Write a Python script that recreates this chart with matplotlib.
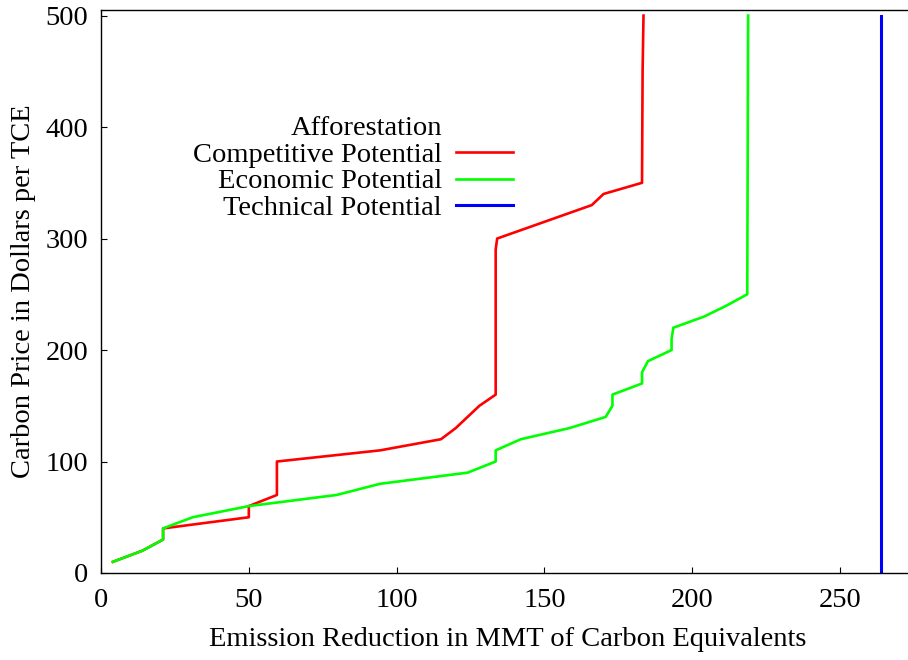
import matplotlib
matplotlib.use('Agg')
import matplotlib.pyplot as plt

plt.rcParams['font.family'] = ['Liberation Serif', 'DejaVu Serif']

# Competitive potential (red)
comp_x = [4, 14, 21, 21, 50, 50, 59.5, 59.5, 94.4, 115, 120, 128, 133.5, 133.5, 134,
          166, 170, 183, 183.2, 183.5]
comp_y = [10, 20, 30, 40, 50, 60, 70, 100, 110, 120, 130, 150, 160, 290, 300,
          330, 340, 350, 450, 500]

# Economic potential (green)
econ_x = [4, 14, 21, 21, 31, 50, 79.7, 94.4, 124, 133.5, 133.5, 142, 158.5, 170.7, 173,
          173, 183, 183, 185, 193, 193, 193.6, 204, 211.7, 218.6, 218.9]
econ_y = [10, 20, 30, 40, 50, 60, 70, 80, 90, 100, 110, 120, 130, 140, 150,
          160, 170, 180, 190, 200, 210, 220, 230, 240, 250, 500]

# Technical potential (blue)
tech_x = [264, 264]
tech_y = [0, 500]

FS = 20.5

fig = plt.figure(figsize=(9.08, 6.6), dpi=100)
ax = fig.add_axes([101 / 908, 87 / 660, 813 / 908, 563 / 660])

# leerer Eintrag als Legenden-Überschrift (rechtsbündig mit den Texten)
ax.plot([], [], color='none', label='Afforestation')
ax.plot(comp_x, comp_y, color='#ff0000', lw=1.9, label='Competitive Potential')
ax.plot(econ_x, econ_y, color='#00ff00', lw=1.9, label='Economic Potential')
ax.plot(tech_x, tech_y, color='#0000ff', lw=2.2, label='Technical Potential')

ax.set_xlim(0, 275)
ax.set_ylim(0, 505)
ax.set_xticks([0, 50, 100, 150, 200, 250])
ax.set_yticks([0, 100, 200, 300, 400, 500])
ax.tick_params(direction='in', length=4, width=0.8, labelsize=FS)
ax.tick_params(axis='y', pad=9)
ax.tick_params(axis='x', pad=11)
ax.spines['right'].set_visible(False)
for s in ['left', 'bottom', 'top']:
    ax.spines[s].set_linewidth(1.0)

ax.set_xlabel('Emission Reduction in MMT of Carbon Equivalents', fontsize=FS, labelpad=10)
ax.set_ylabel('Carbon Price in Dollars per TCE', fontsize=FS, labelpad=7)

leg = ax.legend(loc='upper right', frameon=False, markerfirst=False, fontsize=FS,
                handlelength=2.0, handletextpad=0.5, labelspacing=0.03,
                borderpad=0, borderaxespad=0,
                bbox_to_anchor=(513 / 908, 1 - 115 / 660), bbox_transform=fig.transFigure)

fig.savefig('out.png', dpi=100)
